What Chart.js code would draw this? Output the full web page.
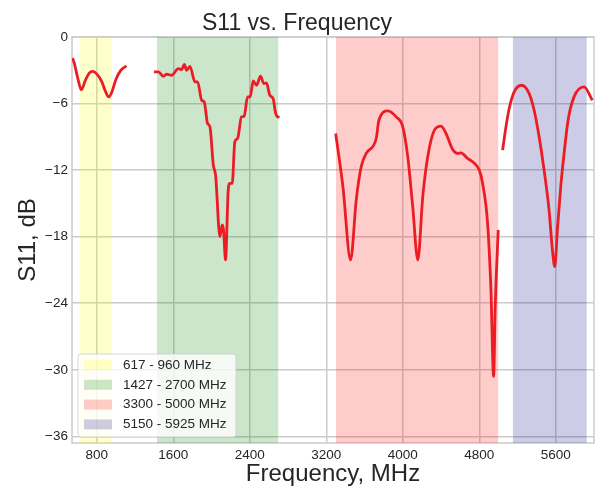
<!DOCTYPE html>
<html lang="en">
<head>
  <meta charset="UTF-8">
  <title>S11 vs. Frequency</title>
  <script src="https://cdn.jsdelivr.net/npm/chart.js"></script>
  <style>
    body { margin: 0; background: #fff; }
    canvas { display: block; }
  </style>
</head>
<body>
  <canvas id="s11Chart" width="598" height="489"></canvas>

  <script>
    // axis ticks
    const xTicks = [800, 1600, 2400, 3200, 4000, 4800, 5600];
    const yTicks = [0, -6, -12, -18, -24, -30, -36];

    // frequency bands
    const bandLabels = ['617 - 960 MHz', '1427 - 2700 MHz', '3300 - 5000 MHz', '5150 - 5925 MHz'];
    const bandStart = [617, 1427, 3300, 5150];
    const bandEnd = [960, 2700, 5000, 5925];
    const bandColors = ['rgba(255,255,0,0.2)', 'rgba(0,128,0,0.2)', 'rgba(255,0,0,0.2)', 'rgba(0,0,128,0.2)'];

    // measured S11 (four separate sweeps)
    const freqA = [545, 565, 600, 637, 680, 720, 758, 800, 850, 890, 925, 955, 1000, 1050, 1110];
    const s11A = [-1.9, -2.4, -3.7, -4.75, -3.9, -3.25, -3.1, -3.35, -4.0, -4.9, -5.4, -5.0, -3.8, -3.0, -2.6];

    const freqB = [1398, 1444, 1496, 1530, 1582, 1652, 1687, 1715, 1739, 1774, 1826, 1854, 1896, 1923, 1958, 1983,
                   2018, 2042, 2087, 2111, 2125, 2146, 2174, 2191, 2216, 2243, 2272, 2313, 2341, 2376, 2404, 2435,
                   2470, 2512, 2546, 2574, 2609, 2643, 2671, 2706];
    const s11B = [-3.15, -3.15, -3.54, -3.36, -3.45, -2.85, -2.94, -2.46, -3.0, -2.64, -4.05, -4.05, -5.7, -5.85, -7.8, -8.1,
                  -11.55, -12.45, -18.0, -16.95, -17.4, -20.1, -13.8, -13.2, -13.2, -9.45, -9.15, -7.2, -7.14, -5.4, -5.4, -3.96,
                  -4.35, -3.54, -4.2, -4.14, -5.25, -5.55, -6.9, -7.29];

    const freqC = [3298, 3374, 3454, 3513, 3565, 3617, 3722, 3750, 3844, 3931, 4000, 4052, 4104, 4157, 4209, 4261,
                   4331, 4400, 4452, 4522, 4574, 4609, 4678, 4730, 4800, 4835, 4887, 4922, 4950, 4967, 4998];
    const s11C = [-8.7, -13.5, -20.1, -14.7, -11.7, -10.5, -9.15, -7.5, -6.66, -7.2, -8.1, -10.8, -15.3, -20.1, -14.4, -10.8,
                  -8.4, -8.04, -8.7, -10.14, -10.5, -10.44, -10.95, -11.25, -12.0, -13.2, -16.8, -22.8, -30.6, -24.3, -17.4];

    const freqD = [5044, 5079, 5113, 5165, 5242, 5322, 5374, 5426, 5478, 5530, 5565, 5590, 5617, 5652, 5687, 5729,
                   5791, 5896, 5983];
    const s11D = [-10.2, -8.1, -6.45, -4.95, -4.35, -5.1, -6.6, -9.0, -12.0, -15.6, -19.2, -20.7, -17.4, -13.5, -10.5, -7.5,
                  -5.4, -4.5, -5.7];

    const textColor = '#262626';
    const gridColor = '#cccccc';
    const lineColor = 'rgb(236,28,36)';

    function toPoints(xs, ys) {
      return xs.map((x, i) => ({ x: x, y: ys[i] }));
    }

    const curveSets = [[freqA, s11A], [freqB, s11B], [freqC, s11C], [freqD, s11D]].map(pair => ({
      label: 'S11',
      data: toPoints(pair[0], pair[1]),
      borderColor: lineColor,
      borderWidth: 2.8,
      pointRadius: 0,
      cubicInterpolationMode: 'monotone',
      fill: false,
      order: 0
    }));

    // each band is a flat line at 0 dB filled down to the bottom of the axis
    const bandSets = bandLabels.map((label, i) => ({
      label: label,
      data: [{ x: bandStart[i], y: 0 }, { x: bandEnd[i], y: 0 }],
      borderWidth: 0,
      pointRadius: 0,
      backgroundColor: bandColors[i],
      fill: 'start',
      order: 1
    }));

    // plot frame
    const framePlugin = {
      id: 'frame',
      beforeDatasetsDraw(chart) {
        const a = chart.chartArea, ctx = chart.ctx;
        ctx.save();
        ctx.strokeStyle = gridColor;
        ctx.lineWidth = 1.5;
        ctx.strokeRect(a.left, a.top, a.right - a.left, a.bottom - a.top);
        ctx.restore();
      }
    };

    // legend box in the lower left corner of the plot
    const bandLegend = {
      id: 'bandLegend',
      afterDraw(chart) {
        const a = chart.chartArea, ctx = chart.ctx;
        const x0 = a.left + 6, y1 = a.bottom - 6;
        const w = 158, h = 83, y0 = y1 - h;
        ctx.save();
        ctx.beginPath();
        ctx.roundRect(x0, y0, w, h, 3);
        ctx.fillStyle = 'rgba(255,255,255,0.8)';
        ctx.fill();
        ctx.strokeStyle = 'rgba(204,204,204,0.8)';
        ctx.lineWidth = 1;
        ctx.stroke();
        ctx.font = '13.5px "Liberation Sans", Arial, sans-serif';
        ctx.textBaseline = 'middle';
        bandLabels.forEach((label, i) => {
          const cy = y0 + 11 + i * 19.8;
          ctx.fillStyle = bandColors[i];
          ctx.fillRect(x0 + 6, cy - 5, 28, 10);
          ctx.fillStyle = textColor;
          ctx.fillText(label, x0 + 45, cy);
        });
        ctx.restore();
      }
    };

    const fontFamily = '"Liberation Sans", Arial, sans-serif';

    new Chart(document.getElementById('s11Chart'), {
      type: 'line',
      data: { datasets: curveSets.concat(bandSets) },
      options: {
        responsive: false,
        animation: false,
        layout: { padding: { left: 0, right: 4, top: 0, bottom: 0 } },
        plugins: {
          legend: { display: false },
          tooltip: { enabled: false },
          title: {
            display: true,
            text: 'S11 vs. Frequency',
            color: textColor,
            font: { family: fontFamily, size: 23, weight: 'normal' },
            padding: { top: 9.4, bottom: 0 }
          }
        },
        scales: {
          x: {
            type: 'linear',
            min: 540,
            max: 6000,
            afterBuildTicks: s => { s.ticks = xTicks.map(v => ({ value: v })); },
            afterFit: s => { s.height = 46; },
            ticks: {
              color: textColor,
              padding: 4,
              font: { family: fontFamily, size: 13.5 },
              callback: v => String(v)
            },
            grid: { color: gridColor, lineWidth: 1.5, drawTicks: false },
            border: { display: false },
            title: {
              display: true,
              text: 'Frequency, MHz',
              color: textColor,
              font: { family: fontFamily, size: 24 },
              padding: { top: 2, bottom: 0 }
            }
          },
          y: {
            type: 'linear',
            min: -36.6,
            max: 0,
            afterBuildTicks: s => { s.ticks = yTicks.map(v => ({ value: v })); },
            afterFit: s => { s.width = 72; },
            ticks: {
              color: textColor,
              padding: 4,
              font: { family: fontFamily, size: 13.5 },
              callback: v => String(v).replace('-', '\u2212')
            },
            grid: { color: gridColor, lineWidth: 1.5, drawTicks: false },
            border: { display: false },
            title: {
              display: true,
              text: 'S11, dB',
              color: textColor,
              font: { family: fontFamily, size: 24 },
              padding: { top: 14, bottom: 0 }
            }
          }
        }
      },
      plugins: [framePlugin, bandLegend]
    });
  </script>
</body>
</html>
